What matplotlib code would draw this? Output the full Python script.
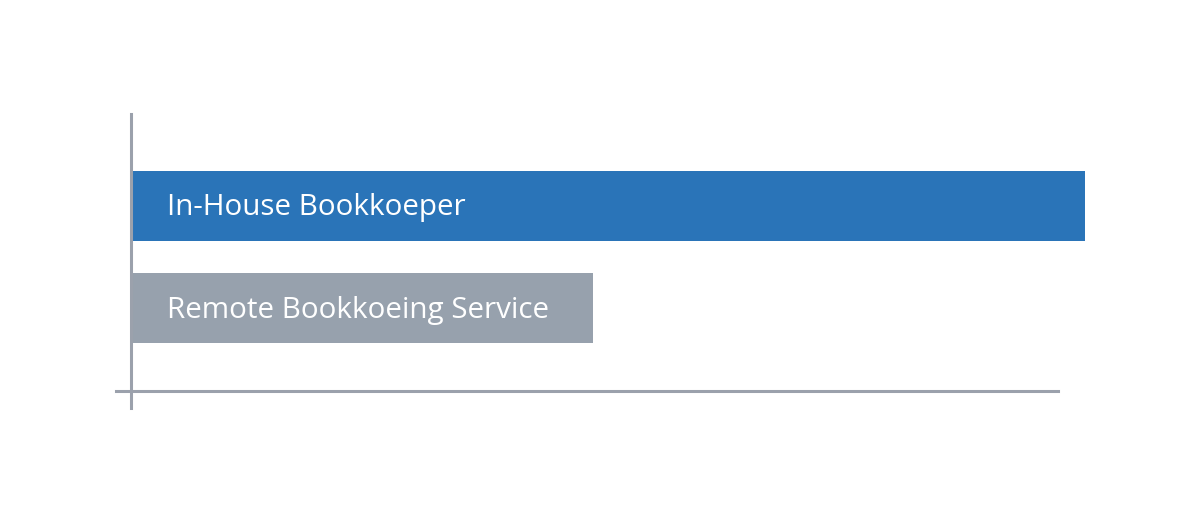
import matplotlib.pyplot as plt

labels = ["Remote Bookkoeing Service", "In-House Bookkoeper"]
values = [48.4, 100]
colors = ["#97a1ad", "#2a74b8"]

plt.rcParams['font.family'] = ['Open Sans', 'DejaVu Sans']

fig = plt.figure(figsize=(12, 5.25), dpi=100)
ax = fig.add_axes([131 / 1200, (525 - 408) / 525, 954 / 1200, 294 / 525])

ypos = list(range(len(labels)))
ax.barh(ypos, values, height=0.68, color=colors, clip_on=False, zorder=2)
for y, lab in zip(ypos, labels):
    ax.text(3.8, y - 0.02, lab, color="white", fontsize=21.3, va="center", ha="left", zorder=3)

ax.set_xlim(0, 100)
ax.set_ylim(-0.973, 1.895)

axis_col = "#9ba1ac"
for s in ["top", "right"]:
    ax.spines[s].set_visible(False)
ax.spines["left"].set_color(axis_col)
ax.spines["left"].set_linewidth(2.2)
ax.spines["left"].set_zorder(4)
ax.spines["bottom"].set_color(axis_col)
ax.spines["bottom"].set_linewidth(2.2)
ax.spines["bottom"].set_position(("data", -0.812))
ax.spines["bottom"].set_bounds(-1.6, 97.2)
ax.set_xticks([])
ax.set_yticks([])

fig.savefig("out.png", dpi=100, facecolor="white")
